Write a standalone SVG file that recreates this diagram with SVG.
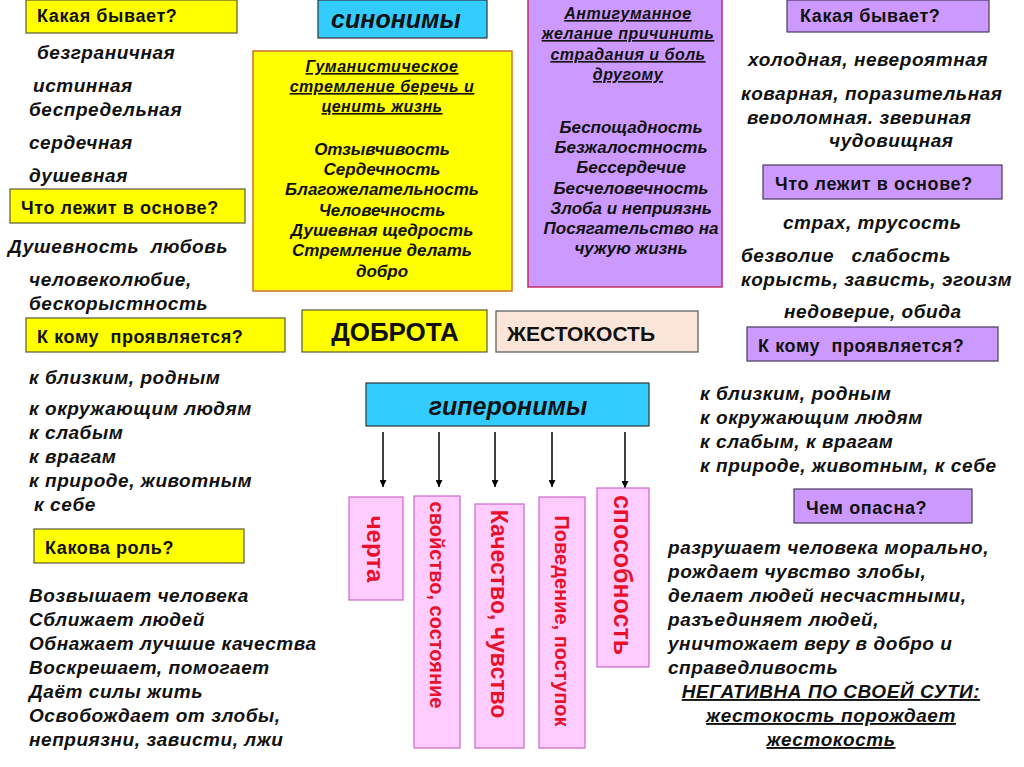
<svg xmlns="http://www.w3.org/2000/svg" width="1024" height="767" viewBox="0 0 1024 767">
<style>
.q{font-family:"Liberation Sans",Arial,sans-serif;font-weight:bold;font-size:18px;letter-spacing:0.6px;fill:#111}
.li{font-family:"Liberation Sans",Arial,sans-serif;font-weight:bold;font-style:italic;font-size:19px;letter-spacing:0.55px;fill:#111}
.bx{font-family:"Liberation Sans",Arial,sans-serif;font-weight:bold;font-style:italic;font-size:17px;fill:#111;text-anchor:middle}
.tt{font-size:16px;letter-spacing:0.5px;text-decoration:underline}
.ul{text-decoration:underline}
.yq{fill:#ffff00;stroke:#5a5a3a;stroke-width:1.2}
.pq{fill:#cc99ff;stroke:#4a3a5a;stroke-width:1.2}
.blue{fill:#33ccff;stroke:#333;stroke-width:1.2}
.pink{fill:#ffccff;stroke:#cc66cc;stroke-width:1.2}
.vt{font-family:"Liberation Sans",Arial,sans-serif;font-weight:bold;fill:#e8102a;text-anchor:middle}
.ar{stroke:#000;stroke-width:1.5;fill:none}
</style>
<defs>
<marker id="ah" viewBox="0 0 10 10" refX="10" refY="5" markerWidth="7" markerHeight="7" markerUnits="userSpaceOnUse" orient="auto">
<path d="M0,0 L10,5 L0,10 z" fill="#000"/>
</marker>
<clipPath id="clipV"><rect x="700" y="100" width="324" height="24"/></clipPath>
</defs>
<rect width="1024" height="767" fill="#fff"/>

<!-- Left column -->
<g id="left-kakaya">
<rect class="yq" x="26" y="0" width="211" height="33"/>
<text class="q" x="37" y="22">Какая бывает?</text>
</g>
<g id="left-kakaya-list">
<text class="li" x="37" y="59">безграничная</text>
<text class="li" x="33" y="92">истинная</text>
<text class="li" x="29" y="116">беспредельная</text>
<text class="li" x="29" y="149">сердечная</text>
<text class="li" x="29" y="182">душевная</text>
</g>
<g id="left-osnova">
<rect class="yq" x="10" y="189" width="235" height="34"/>
<text class="q" x="21" y="214">Что лежит в основе?</text>
</g>
<g id="left-osnova-list">
<text class="li" x="8" y="253" xml:space="preserve">Душевность  любовь</text>
<text class="li" x="29" y="286">человеколюбие,</text>
<text class="li" x="29" y="310">бескорыстность</text>
</g>
<g id="left-komu">
<rect class="yq" x="26" y="318" width="259" height="34"/>
<text class="q" x="37" y="343" xml:space="preserve">К кому  проявляется?</text>
</g>
<g id="left-komu-list">
<text class="li" x="29" y="384">к близким, родным</text>
<text class="li" x="29" y="415">к окружающим людям</text>
<text class="li" x="29" y="439">к слабым</text>
<text class="li" x="29" y="463">к врагам</text>
<text class="li" x="29" y="487">к природе, животным</text>
<text class="li" x="34" y="511">к себе</text>
</g>
<g id="left-rol">
<rect class="yq" x="34" y="529" width="210" height="34"/>
<text class="q" x="45" y="554">Какова роль?</text>
</g>
<g id="left-rol-list">
<text class="li" x="29" y="602">Возвышает человека</text>
<text class="li" x="29" y="626">Сближает людей</text>
<text class="li" x="29" y="650">Обнажает лучшие качества</text>
<text class="li" x="29" y="674">Воскрешает, помогает</text>
<text class="li" x="29" y="698">Даёт силы жить</text>
<text class="li" x="29" y="722">Освобождает от злобы,</text>
<text class="li" x="29" y="746">неприязни, зависти, лжи</text>
</g>

<!-- Synonyms -->
<g id="sinonimy">
<rect class="blue" x="318" y="0" width="169" height="38"/>
<text x="396" y="28" style="font-family:'Liberation Sans',Arial,sans-serif;font-weight:bold;font-style:italic;font-size:25px;fill:#111;text-anchor:middle">синонимы</text>
</g>
<g id="dobrota-syn">
<rect x="253" y="51" width="259" height="240" fill="#ffff00" stroke="#d07030" stroke-width="1.5"/>
<text class="bx tt" x="382" y="72">Гуманистическое</text>
<text class="bx tt" x="382" y="92">стремление беречь и</text>
<text class="bx tt" x="382" y="112">ценить жизнь</text>
<text class="bx" x="382" y="155">Отзывчивость</text>
<text class="bx" x="382" y="175">Сердечность</text>
<text class="bx" x="382" y="195">Благожелательность</text>
<text class="bx" x="382" y="216">Человечность</text>
<text class="bx" x="382" y="236">Душевная щедрость</text>
<text class="bx" x="382" y="256">Стремление делать</text>
<text class="bx" x="382" y="277">добро</text>
</g>
<g id="zhestokost-syn">
<rect x="528" y="-2" width="194" height="289" fill="#cc99ff" stroke="#c0306a" stroke-width="1.5"/>
<text class="bx tt" x="628" y="19">Антигуманное</text>
<text class="bx tt" x="628" y="39">желание причинить</text>
<text class="bx tt" x="628" y="60">страдания и боль</text>
<text class="bx tt" x="628" y="80">другому</text>
<text class="bx" x="631" y="133">Беспощадность</text>
<text class="bx" x="631" y="153">Безжалостность</text>
<text class="bx" x="631" y="173">Бессердечие</text>
<text class="bx" x="631" y="194">Бесчеловечность</text>
<text class="bx" x="631" y="214">Злоба и неприязнь</text>
<text class="bx" x="631" y="234">Посягательство на</text>
<text class="bx" x="631" y="254">чужую жизнь</text>
</g>

<!-- Right column -->
<g id="right-kakaya">
<rect class="pq" x="787" y="0" width="202" height="32"/>
<text class="q" x="800" y="22">Какая бывает?</text>
</g>
<g id="right-kakaya-list">
<text class="li" x="748" y="66">холодная, невероятная</text>
<text class="li" x="741" y="100">коварная, поразительная</text>
<text class="li" x="747" y="124" clip-path="url(#clipV)">вероломная, звериная</text>
<text class="li" x="829" y="147">чудовищная</text>
</g>
<g id="right-osnova">
<rect class="pq" x="763" y="165" width="239" height="34"/>
<text class="q" x="775" y="190">Что лежит в основе?</text>
</g>
<g id="right-osnova-list">
<text class="li" x="783" y="229">страх, трусость</text>
<text class="li" x="741" y="262" xml:space="preserve">безволие   слабость</text>
<text class="li" x="741" y="286">корысть, зависть, эгоизм</text>
<text class="li" x="784" y="318">недоверие, обида</text>
</g>
<g id="right-komu">
<rect class="pq" x="747" y="327" width="251" height="34"/>
<text class="q" x="758" y="352" xml:space="preserve">К кому  проявляется?</text>
</g>
<g id="right-komu-list">
<text class="li" x="700" y="400">к близким, родным</text>
<text class="li" x="700" y="424">к окружающим людям</text>
<text class="li" x="700" y="448">к слабым, к врагам</text>
<text class="li" x="700" y="472">к природе, животным, к себе</text>
</g>
<g id="right-opasna">
<rect class="pq" x="794" y="489" width="178" height="34"/>
<text class="q" x="806" y="514">Чем опасна?</text>
</g>
<g id="right-opasna-list">
<text class="li" x="668" y="554">разрушает человека морально,</text>
<text class="li" x="668" y="578">рождает чувство злобы,</text>
<text class="li" x="668" y="602">делает людей несчастными,</text>
<text class="li" x="668" y="626">разъединяет людей,</text>
<text class="li" x="668" y="650">уничтожает веру в добро и</text>
<text class="li" x="668" y="674">справедливость</text>
<text class="li ul" x="831" y="698" text-anchor="middle">НЕГАТИВНА ПО СВОЕЙ СУТИ:</text>
<text class="li ul" x="831" y="722" text-anchor="middle">жестокость порождает</text>
<text class="li ul" x="831" y="746" text-anchor="middle">жестокость</text>
</g>

<!-- Center -->
<g id="dobrota">
<rect class="yq" x="302" y="310" width="185" height="42"/>
<text x="395" y="341" style="font-family:'Liberation Sans',Arial,sans-serif;font-weight:bold;font-size:26px;fill:#111;text-anchor:middle">ДОБРОТА</text>
</g>
<g id="zhestokost">
<rect x="496" y="311" width="202" height="41" fill="#fbe5d8" stroke="#555" stroke-width="1.2"/>
<text x="507" y="341" style="font-family:'Liberation Sans',Arial,sans-serif;font-weight:bold;font-size:21px;fill:#111">ЖЕСТОКОСТЬ</text>
</g>
<g id="giperonimy">
<rect class="blue" x="366" y="383" width="283" height="43"/>
<text x="508" y="415" style="font-family:'Liberation Sans',Arial,sans-serif;font-weight:bold;font-style:italic;font-size:25px;fill:#111;text-anchor:middle">гиперонимы</text>
</g>

<g id="connectors">
<line class="ar" x1="383" y1="432" x2="383" y2="487" marker-end="url(#ah)"/>
<line class="ar" x1="439" y1="432" x2="439" y2="487" marker-end="url(#ah)"/>
<line class="ar" x1="495" y1="432" x2="495" y2="487" marker-end="url(#ah)"/>
<line class="ar" x1="552" y1="432" x2="552" y2="487" marker-end="url(#ah)"/>
<line class="ar" x1="625" y1="432" x2="625" y2="488" marker-end="url(#ah)"/>
</g>

<g id="cherta">
<rect class="pink" x="349" y="497" width="54" height="103"/>
<text class="vt" transform="translate(376,549) rotate(90)" dy="0.36em" style="font-size:24px">черта</text>
</g>
<g id="svoistvo">
<rect class="pink" x="414" y="496" width="46" height="252"/>
<text class="vt" transform="translate(437,605) rotate(90)" dy="0.36em" style="font-size:20px">свойство, состояние</text>
</g>
<g id="kachestvo">
<rect class="pink" x="475" y="504" width="49" height="244"/>
<text class="vt" transform="translate(499,614) rotate(90)" dy="0.36em" style="font-size:23px">Качество, чувство</text>
</g>
<g id="povedenie">
<rect class="pink" x="539" y="497" width="46" height="251"/>
<text class="vt" transform="translate(562,621) rotate(90)" dy="0.36em" style="font-size:20px">Поведение, поступок</text>
</g>
<g id="sposobnost">
<rect class="pink" x="597" y="488" width="52" height="179"/>
<text class="vt" transform="translate(623,575) rotate(90)" dy="0.36em" style="font-size:25px">способность</text>
</g>
</svg>
